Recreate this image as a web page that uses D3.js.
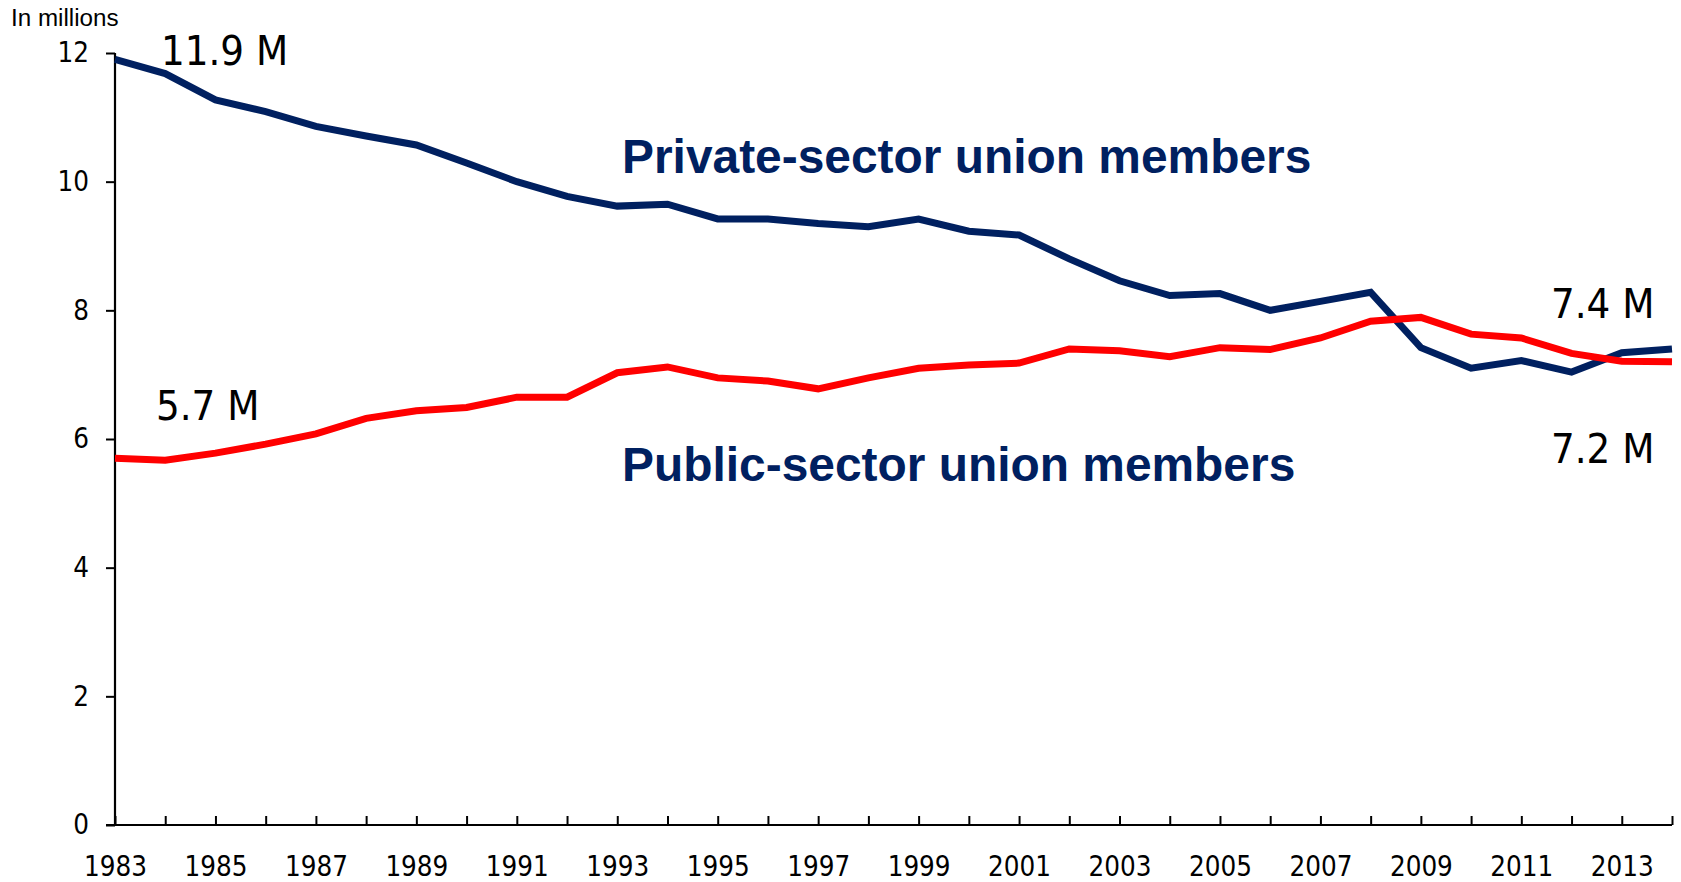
<!DOCTYPE html>
<html>
<head>
<meta charset="utf-8">
<script src="https://cdn.jsdelivr.net/npm/d3@7"></script>
<style>
  body { margin: 0; background: #ffffff; }
  svg { display: block; }
</style>
</head>
<body>
<svg id="chart" width="1681" height="882"></svg>
<script>
// Union membership, in millions, 1983-2014
const years = d3.range(1983, 2015);
const privateMembers = [
  11.9, 11.68, 11.27, 11.09, 10.86, 10.71, 10.57, 10.29, 10.0, 9.77,
  9.62, 9.65, 9.42, 9.42, 9.35, 9.3, 9.42, 9.23, 9.17, 8.8,
  8.46, 8.23, 8.26, 8.0, 8.14, 8.28, 7.42, 7.1, 7.22, 7.04,
  7.34, 7.4
];
const publicMembers = [
  5.7, 5.67, 5.78, 5.92, 6.08, 6.32, 6.44, 6.49, 6.65, 6.65,
  7.03, 7.12, 6.95, 6.9, 6.78, 6.95, 7.1, 7.15, 7.18, 7.4,
  7.37, 7.28, 7.42, 7.39, 7.57, 7.83, 7.89, 7.63, 7.57, 7.33,
  7.21, 7.2
];
const yTicks = [0, 2, 4, 6, 8, 10, 12];
const xTickLabels = years.filter(y => (y - 1983) % 2 === 0);

const seriesNames = ["Private-sector union members", "Public-sector union members"];
const endLabels = [
  { text: "11.9 M", year: 1983, value: privateMembers[0] },
  { text: "5.7 M", year: 1983, value: publicMembers[0] },
  { text: "7.4 M", year: 2014, value: privateMembers[privateMembers.length - 1] },
  { text: "7.2 M", year: 2014, value: publicMembers[publicMembers.length - 1] }
];

const NAVY = "#002060";
const RED = "#ff0000";
const numFont = "'DejaVu Sans Condensed', 'DejaVu Sans', sans-serif";

const svg = d3.select("#chart");
const x = d3.scaleLinear().domain([1983, 2014]).range([115, 1672]);
const y = d3.scaleLinear().domain([0, 12]).range([825, 53]);

// Y axis: outward ticks on the left
const yAxis = svg.append("g")
  .attr("transform", `translate(${x(1983)},0)`)
  .call(d3.axisLeft(y).tickValues(yTicks).tickSize(9).tickPadding(17).tickFormat(d3.format("d")));

// X axis: inward ticks every year, labels every other year
const xAxis = svg.append("g")
  .attr("transform", `translate(0,${y(0)})`)
  .call(d3.axisBottom(x).tickValues(years).tickSize(-9).tickPadding(31)
    .tickFormat(d => xTickLabels.includes(d) ? String(d) : ""));

[yAxis, xAxis].forEach(g => {
  g.select(".domain").attr("stroke", "#000").attr("stroke-width", 2.2);
  g.selectAll(".tick line").attr("stroke", "#000").attr("stroke-width", 2);
  g.selectAll(".tick text")
    .attr("fill", "#000")
    .style("font-family", numFont)
    .style("font-size", "27.5px");
});
yAxis.select(".domain").attr("d", `M0,${y(0)}V${y(12)}`);
xAxis.select(".domain").attr("d", `M${x(1983) - 9},0H${x(2014)}`);
xAxis.selectAll(".tick text").attr("dy", "0.71em");

// Unit caption
svg.append("text")
  .attr("x", 11).attr("y", 26)
  .style("font-family", "'Liberation Sans', Arial, sans-serif")
  .style("font-size", "24.2px")
  .attr("fill", "#000")
  .text("In millions");

// Series lines
const line = d3.line().x((d, i) => x(years[i])).y(d => y(d));
svg.append("path").datum(privateMembers)
  .attr("d", line).attr("fill", "none")
  .attr("stroke", NAVY).attr("stroke-width", 7).attr("stroke-linejoin", "miter");
svg.append("path").datum(publicMembers)
  .attr("d", line).attr("fill", "none")
  .attr("stroke", RED).attr("stroke-width", 7).attr("stroke-linejoin", "miter");

// Series names
svg.append("text")
  .attr("x", 622).attr("y", 173)
  .style("font-family", "'Liberation Sans', Arial, sans-serif")
  .style("font-weight", "bold").style("font-size", "47.9px")
  .attr("fill", NAVY).text(seriesNames[0]);
svg.append("text")
  .attr("x", 622).attr("y", 481)
  .style("font-family", "'Liberation Sans', Arial, sans-serif")
  .style("font-weight", "bold").style("font-size", "47.9px")
  .attr("fill", NAVY).text(seriesNames[1]);

// Value call-outs at the start and end of each series
const labelPos = [
  { dx: 46, y: 65 },
  { dx: 41, y: 420 },
  { dx: -121, y: 318 },
  { dx: -121, y: 463 }
];
endLabels.forEach((d, i) => {
  svg.append("text")
    .attr("x", x(d.year) + labelPos[i].dx)
    .attr("y", labelPos[i].y)
    .style("font-family", numFont)
    .style("font-size", "41.5px")
    .attr("fill", "#000")
    .text(d.text);
});
</script>
</body>
</html>
